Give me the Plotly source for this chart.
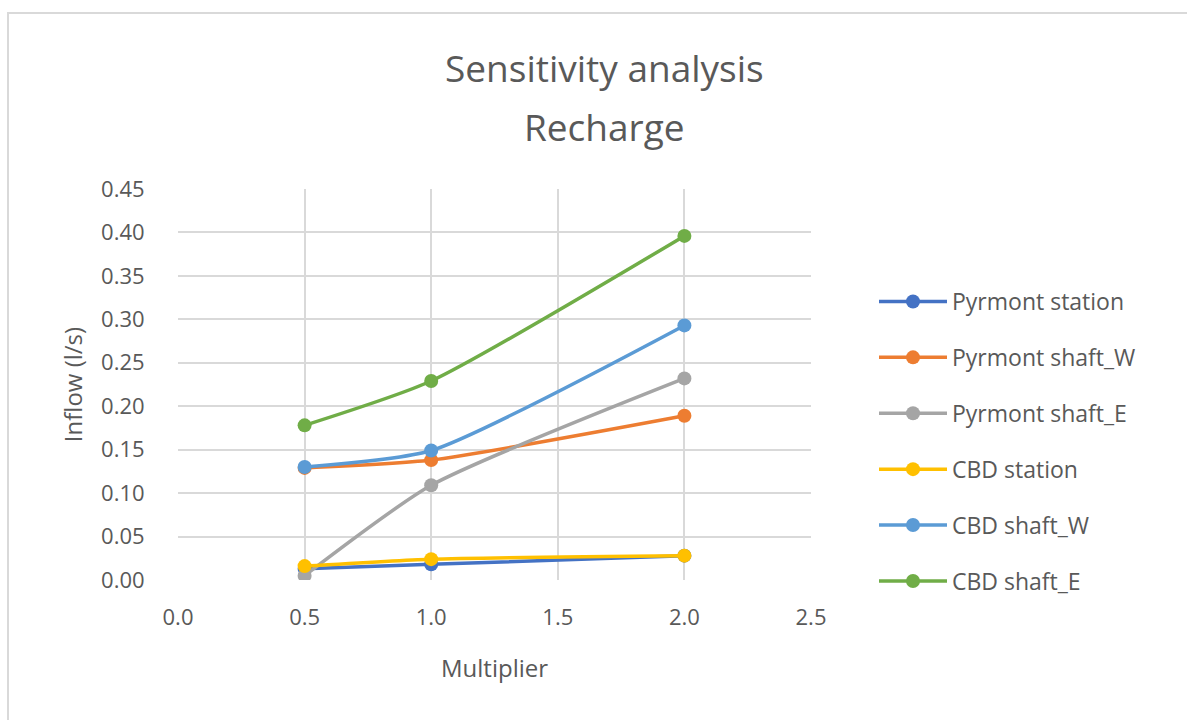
import plotly.graph_objects as go

multiplier = [0.5, 1.0, 2.0]
series_names = ["Pyrmont station", "Pyrmont shaft_W", "Pyrmont shaft_E",
                "CBD station", "CBD shaft_W", "CBD shaft_E"]
pyrmont_station = [0.013, 0.018, 0.028]
pyrmont_shaft_w = [0.129, 0.138, 0.189]
pyrmont_shaft_e = [0.005, 0.109, 0.232]
cbd_station = [0.016, 0.024, 0.028]
cbd_shaft_w = [0.130, 0.149, 0.293]
cbd_shaft_e = [0.178, 0.229, 0.396]
colors = ["#4472C4", "#ED7D31", "#A5A5A5", "#FFC000", "#5B9BD5", "#70AD47"]
title_lines = ["Sensitivity analysis", "Recharge"]

values = [pyrmont_station, pyrmont_shaft_w, pyrmont_shaft_e,
          cbd_station, cbd_shaft_w, cbd_shaft_e]

W, H = 1187, 720
L, R, T, B = 178, 811, 189, 580

fig = go.Figure()
for i, (name, vals, col) in enumerate(zip(series_names, values, colors)):
    fig.add_trace(go.Scatter(
        x=multiplier, y=vals, name=name, mode="lines+markers",
        line=dict(color=col, width=3.5, shape="spline", smoothing=0.6),
        marker=dict(color=col, size=14),
        legendgroup=f"g{i}",
    ))

font_fam = "Open Sans, Noto Sans, sans-serif"
grey = "#595959"

def px_x(p):
    return (p - L) / (R - L)

def px_y(p):
    return (B - p) / (B - T)

fig.update_layout(
    width=W, height=H,
    margin=dict(l=L, r=W - R, t=T, b=H - B, pad=0),
    paper_bgcolor="white", plot_bgcolor="white",
    font=dict(family=font_fam, color=grey, size=22),
    xaxis=dict(range=[0, 2.5], dtick=0.5, tickformat=".1f",
               showgrid=True, gridcolor="#D9D9D9", gridwidth=1.5,
               zeroline=False, showline=False, ticks="outside",
               ticklen=18, tickcolor="rgba(0,0,0,0)",
               tickfont=dict(size=22, color=grey),
               title=dict(text="Multiplier", font=dict(size=24, color=grey), standoff=29)),
    yaxis=dict(range=[0, 0.45], dtick=0.05, tickformat=".2f",
               showgrid=True, gridcolor="#D9D9D9", gridwidth=1.5,
               zeroline=False, showline=False, ticks="outside",
               ticklen=28, tickcolor="rgba(0,0,0,0)",
               tickfont=dict(size=22, color=grey),
               title=dict(text="Inflow (l/s)", font=dict(size=24, color=grey), standoff=11)),
    legend=dict(x=px_x(874), xanchor="left", y=px_y(280), yanchor="top",
                font=dict(size=23, color=grey), tracegroupgap=23,
                itemwidth=68, bgcolor="rgba(0,0,0,0)"),
    showlegend=True,
)

for txt, yc in zip(title_lines, [68, 126]):
    fig.add_annotation(text=txt, xref="paper", yref="paper",
                       x=px_x(604), y=px_y(yc), xanchor="center", yanchor="middle",
                       showarrow=False, font=dict(size=37, color=grey, family=font_fam))

fig.add_shape(type="rect", xref="paper", yref="paper",
              x0=px_x(8), x1=px_x(1250), y0=px_y(13), y1=px_y(780),
              line=dict(color="#D9D9D9", width=2), layer="below")

fig.write_html("out.html")
